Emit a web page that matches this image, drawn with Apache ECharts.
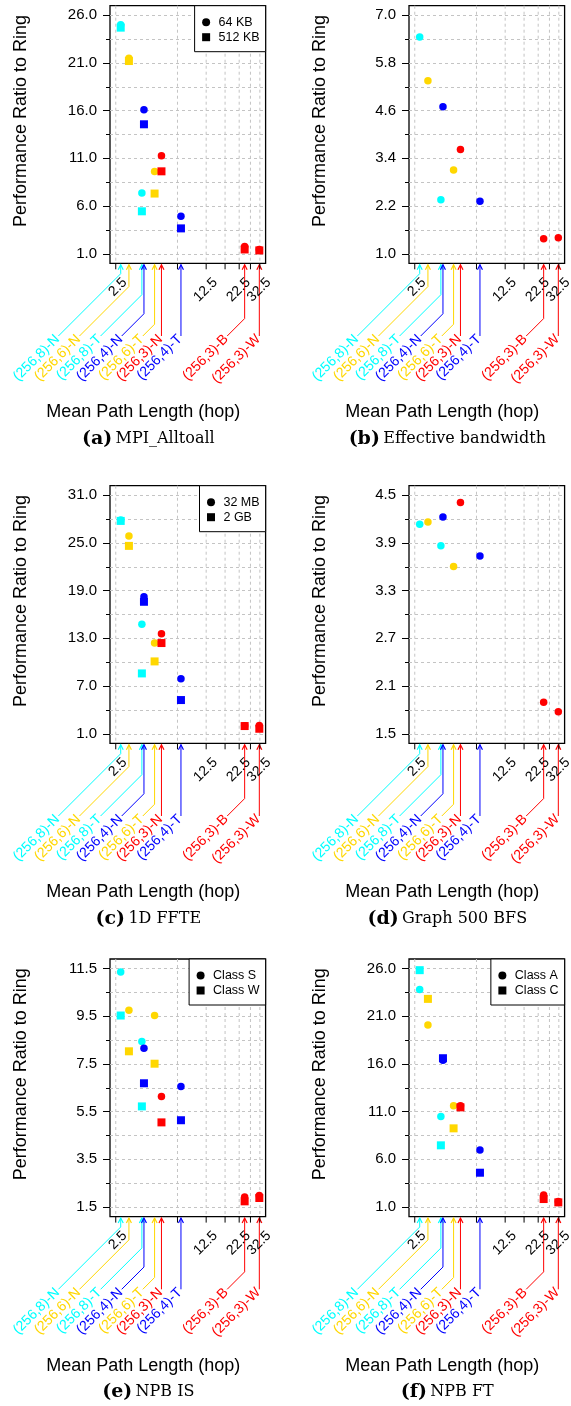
<!DOCTYPE html>
<html>
<head>
<meta charset="utf-8">
<script src="https://cdn.jsdelivr.net/npm/echarts@6/dist/echarts.min.js"></script>
<style>
  html, body { margin: 0; padding: 0; background: #fff; }
  #chart { width: 571px; height: 1406px; }
</style>
</head>
<body>
<div id="chart"></div>
<script>
// Topologies, their colours and mean path lengths (hops), shared by every panel
const topologies = ['(256,8)-N', '(256,6)-N', '(256,8)-T', '(256,4)-N', '(256,6)-T', '(256,3)-N', '(256,4)-T', '(256,3)-B', '(256,3)-W'];
const topologyColors = ['#00FFFF', '#FFD700', '#00FFFF', '#0000FF', '#FFD700', '#FF0000', '#0000FF', '#FF0000', '#FF0000'];
const meanPathLength = [2.73, 3.16, 3.98, 4.13, 4.99, 5.64, 7.98, 24.8, 32.2];

// x axis (log scale) ticks and labelled ticks
const xLimits = [2.5, 32.5];
const xTickValues = [2.5, 7.5, 12.5, 17.5, 22.5, 27.5, 32.5];
const xTickLabels = [2.5, 12.5, 22.5, 32.5];

// (a) MPI_Alltoall
const alltoall64KB = [25.0, 21.5, 7.36, 16.1, 9.62, 11.28, 4.92, 1.75, 1.45];
const alltoall512KB = [24.7, 21.2, 5.45, 14.57, 7.31, 9.64, 3.66, 1.45, 1.35];
const alltoallTicks = [1.0, 6.0, 11.0, 16.0, 21.0, 26.0];

// (b) Effective bandwidth
const bandwidthRatio = [6.45, 5.35, 2.36, 4.70, 3.11, 3.62, 2.32, 1.38, 1.40];
const bandwidthTicks = [1.0, 2.2, 3.4, 4.6, 5.8, 7.0];

// (c) 1D FFTE
const ffte32MB = [27.9, 25.88, 14.76, 18.24, 12.41, 13.58, 7.92, 2.0, 2.05];
const ffte2GB = [27.77, 24.63, 8.59, 17.6, 10.1, 12.41, 5.24, 1.97, 1.63];
const ffteTicks = [1.0, 7.0, 13.0, 19.0, 25.0, 31.0];

// (d) Graph 500 BFS
const bfsRatio = [4.134, 4.164, 3.866, 4.227, 3.605, 4.41, 3.735, 1.895, 1.777];
const bfsTicks = [1.5, 2.1, 2.7, 3.3, 3.9, 4.5];

// (e) NPB IS
const isClassS = [11.35, 9.75, 8.44, 8.16, 9.53, 6.14, 6.55, 1.92, 1.98];
const isClassW = [9.53, 8.03, 5.72, 6.69, 7.51, 5.05, 5.14, 1.74, 1.88];
const isTicks = [1.5, 3.5, 5.5, 7.5, 9.5, 11.5];

// (f) NPB FT
const ftClassA = [23.8, 20.09, 10.48, 16.38, 11.63, 11.63, 6.98, 2.26, 1.59];
const ftClassC = [25.83, 22.82, 7.47, 16.6, 9.25, 11.45, 4.6, 1.84, 1.49];
const ftTicks = [1.0, 6.0, 11.0, 16.0, 21.0, 26.0];

const panels = [
  { tag: '(a)', caption: 'MPI_Alltoall', ticks: alltoallTicks, legend: true,
    series: [['64 KB', 'circle', alltoall64KB], ['512 KB', 'rect', alltoall512KB]] },
  { tag: '(b)', caption: 'Effective bandwidth', ticks: bandwidthTicks, legend: false,
    series: [['Effective bandwidth', 'circle', bandwidthRatio]] },
  { tag: '(c)', caption: '1D FFTE', ticks: ffteTicks, legend: true,
    series: [['32 MB', 'circle', ffte32MB], ['2 GB', 'rect', ffte2GB]] },
  { tag: '(d)', caption: 'Graph 500 BFS', ticks: bfsTicks, legend: false,
    series: [['Graph 500 BFS', 'circle', bfsRatio]] },
  { tag: '(e)', caption: 'NPB IS', ticks: isTicks, legend: true,
    series: [['Class S', 'circle', isClassS], ['Class W', 'rect', isClassW]] },
  { tag: '(f)', caption: 'NPB FT', ticks: ftTicks, legend: true,
    series: [['Class A', 'circle', ftClassA], ['Class C', 'rect', ftClassC]] }
];

// ---- layout ----
const SANS = '"Liberation Sans", Arial, Helvetica, sans-serif';
const SERIF = '"DejaVu Serif", "Liberation Serif", serif';
const COL_LEFT = [110, 409];
const ROW_TOP = [5.7, 485.7, 959];
const PLOT_W = 155.6;
const PLOT_H = 257.6;
// topology labels sit in evenly spaced slots below the axis (null: straight below the point)
const LABEL_SLOT_START = -51.6;   // px from the plot's left edge
const LABEL_SLOT_PITCH = 21.1;
const LABEL_SLOT = [0, 1, 2, 3, 4, 5, 6, 8, null];
const LABEL_DROP = 330.3;         // px from the plot's top edge

const round = v => Math.round(v * 1e6) / 1e6;
// 4% padding on each side of the limits, like R's default axis style
const logLo = Math.log10(xLimits[0]), logHi = Math.log10(xLimits[1]);
const logPad = (logHi - logLo) * 0.04;
const X_MIN = Math.pow(10, logLo - logPad);
const X_MAX = Math.pow(10, logHi + logPad);

const chart = echarts.init(document.getElementById('chart'), null, { renderer: 'canvas' });

const grid = [], xAxis = [], yAxis = [], series = [], legend = [];

panels.forEach((p, i) => {
  const left = COL_LEFT[i % 2];
  const top = ROW_TOP[Math.floor(i / 2)];
  const t = p.ticks;
  const pad = (t[t.length - 1] - t[0]) * 0.04;
  const minors = [];
  for (let k = 0; k < t.length - 1; k++) minors.push(round((t[k] + t[k + 1]) / 2));
  const allTicks = t.concat(minors).sort((a, b) => a - b);

  grid.push({
    left, top, width: PLOT_W, height: PLOT_H,
    show: true, borderColor: '#000', borderWidth: 1.3,
    backgroundColor: 'rgba(0,0,0,0)', containLabel: false, outerBoundsMode: 'none'
  });

  xAxis.push({
    type: 'log', gridIndex: i, min: X_MIN, max: X_MAX,
    axisLine: { show: false }, axisTick: { show: false },
    axisLabel: { show: false }, splitLine: { show: false }
  });

  // labelled (major) ticks
  yAxis.push({
    type: 'value', gridIndex: i, position: 'left',
    min: round(t[0] - pad), max: round(t[t.length - 1] + pad),
    axisLine: { show: false },
    axisTick: { show: true, length: 7, customValues: t, lineStyle: { color: '#000', width: 1 } },
    axisLabel: {
      show: true, customValues: t, margin: 13,
      formatter: v => Number(v).toFixed(1),
      color: '#000', fontSize: 15, fontFamily: SANS
    },
    splitLine: { show: false }
  });
  // minor ticks and dashed grid lines
  yAxis.push({
    type: 'value', gridIndex: i, position: 'left', offset: 0,
    min: round(t[0] - pad), max: round(t[t.length - 1] + pad),
    axisLine: { show: false },
    axisTick: { show: true, length: 4, customValues: allTicks, lineStyle: { color: '#000', width: 1 } },
    axisLabel: { show: false },
    splitLine: { show: true, lineStyle: { color: '#c4c4c4', width: 1, type: [3, 3] } }
  });

  p.series.forEach(([name, symbol, values], k) => {
    series.push({
      type: 'scatter', name, xAxisIndex: i, yAxisIndex: 2 * i,
      symbol, symbolSize: symbol === 'rect' ? 8 : 7.5,
      z: 3 + k, silent: true,
      itemStyle: { color: '#000', opacity: 1 },
      emphasis: { disabled: true },
      data: values.map((v, j) => ({ value: [meanPathLength[j], v], itemStyle: { color: topologyColors[j] } }))
    });
  });

  if (p.legend) {
    legend.push({
      orient: 'vertical', right: 571 - (left + PLOT_W), top: top,
      data: p.series.map(([name, symbol]) => ({ name, icon: symbol })),
      formatter: name => ' ' + name,
      itemWidth: 8, itemHeight: 8, itemGap: 2,
      padding: [10, 6, 8, 7.5],
      borderColor: '#000', borderWidth: 1, backgroundColor: '#fff',
      selectedMode: false,
      textStyle: { color: '#000', fontSize: 12.5, fontFamily: SANS }
    });
  }
});

chart.setOption({
  animation: false,
  backgroundColor: '#fff',
  grid, xAxis, yAxis, series, legend
});

// ---- x-axis ticks, vertical grid lines, topology leaders and titles ----
const elements = [];
panels.forEach((p, i) => {
  const left = COL_LEFT[i % 2];
  const top = ROW_TOP[Math.floor(i / 2)];
  const bottom = top + PLOT_H;
  const px = v => chart.convertToPixel({ xAxisIndex: i }, v);

  xTickValues.forEach(v => {
    const x = px(v);
    elements.push({ type: 'line', z: 1, silent: true,
      shape: { x1: x, y1: top, x2: x, y2: bottom },
      style: { stroke: '#c4c4c4', lineWidth: 1, lineDash: [3, 3] } });
    elements.push({ type: 'line', z: 5, silent: true,
      shape: { x1: x, y1: bottom, x2: x, y2: bottom + 6 },
      style: { stroke: '#000', lineWidth: 1 } });
  });
  xTickLabels.forEach(v => {
    elements.push({ type: 'text', z: 5, silent: true,
      x: px(v) + 9, y: bottom + 17, rotation: Math.PI / 4,
      style: { text: String(v), align: 'right', verticalAlign: 'middle',
        fill: '#000', fontSize: 14, fontFamily: SANS } });
  });

  // topology leaders: arrow up to the axis, 45-degree leg, rotated label
  const ly = top + LABEL_DROP;
  topologies.forEach((name, j) => {
    const c = topologyColors[j];
    const dx = px(meanPathLength[j]);
    const slot = LABEL_SLOT[j];
    const lx = slot === null ? dx : Math.min(dx, left + LABEL_SLOT_START + slot * LABEL_SLOT_PITCH);
    const run = dx - lx;
    const tipY = bottom + 1.5;
    elements.push({ type: 'polyline', z: 4, silent: true,
      shape: { points: [[lx, ly], [dx, ly - run], [dx, tipY]] },
      style: { stroke: c, lineWidth: 1, fill: null } });
    elements.push({ type: 'polyline', z: 4, silent: true,
      shape: { points: [[dx - 2.5, tipY + 5], [dx, tipY], [dx + 2.5, tipY + 5]] },
      style: { stroke: c, lineWidth: 1.2, fill: null } });
    elements.push({ type: 'text', z: 5, silent: true,
      x: lx - 1, y: ly + 1, rotation: Math.PI / 4,
      style: { text: name, align: 'right', verticalAlign: 'middle',
        fill: c, fontSize: 14, fontFamily: SANS } });
  });

  // axis titles
  elements.push({ type: 'text', z: 5, silent: true,
    x: left - 89.2, y: top + 115.3, rotation: Math.PI / 2,
    style: { text: 'Performance Ratio to Ring', align: 'center', verticalAlign: 'middle',
      fill: '#000', fontSize: 18, fontFamily: SANS } });
  elements.push({ type: 'text', z: 5, silent: true,
    x: left + 33.3, y: top + 406.6,
    style: { text: 'Mean Path Length (hop)', align: 'center', verticalAlign: 'middle',
      fill: '#000', fontSize: 18, fontFamily: SANS } });
  // sub-caption
  elements.push({ type: 'text', z: 5, silent: true,
    x: left + 38.3, y: top + 433.3,
    style: {
      text: '{t|' + p.tag + '} {c|' + p.caption + '}',
      align: 'center', verticalAlign: 'middle',
      rich: {
        t: { fontFamily: SERIF, fontWeight: 'bold', fontSize: 19, fill: '#000' },
        c: { fontFamily: SERIF, fontSize: 16, fill: '#000' }
      }
    } });
});

chart.setOption({ graphic: { elements } });
</script>
</body>
</html>
